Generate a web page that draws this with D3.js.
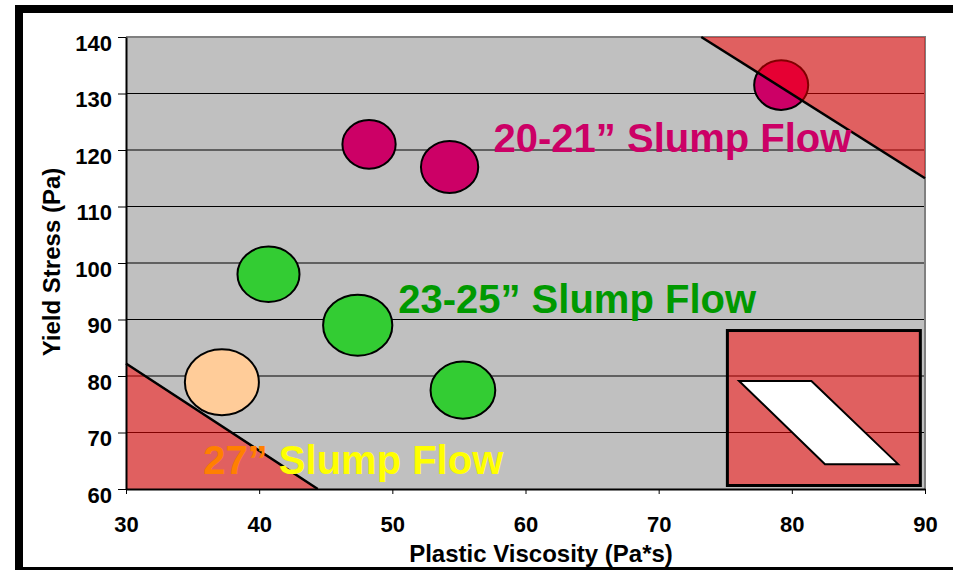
<!DOCTYPE html>
<html>
<head>
<meta charset="utf-8">
<script src="https://cdn.jsdelivr.net/npm/d3@7"></script>
<style>
  body { margin: 0; background: #fff; }
  svg { display: block; font-family: "Liberation Sans", Arial, sans-serif; font-weight: bold; }
</style>
</head>
<body>
<div id="chart"></div>
<script>
// values
const viscosity   = [48.25, 54.3, 79.2, 40.7, 47.4, 55.3, 37.2];
const yieldStress = [121, 117, 131.5, 98, 89, 77.5, 78.9];
const flowGroup   = ["20-21", "20-21", "20-21", "23-25", "23-25", "23-25", "27"];
const spreadPV    = [2.0, 2.15, 2.03, 2.33, 2.6, 2.43, 2.78];   // half width of each blob (Pa*s)
const spreadYS    = [4.3, 4.6, 4.4, 4.9, 5.4, 5.05, 5.85];      // half height of each blob (Pa)

const xTicks = [30, 40, 50, 60, 70, 80, 90];
const yTicks = [60, 70, 80, 90, 100, 110, 120, 130, 140];

// zones (in Pa*s / Pa)
const highZone = [[73.2, 140], [90, 140], [90, 115]];
const lowZone  = [[30, 82.2], [30, 60], [44.4, 60]];
const boxZone  = [[75.16, 88.05], [89.65, 60.62]];
const boxShape = [[76.04, 79.1], [81.47, 79.1], [87.98, 64.4], [82.49, 64.4]];

// group labels
const labelGroup = ["20-21", "23-25", "27"];
const labelX     = [57.6, 50.44, 35.8];
const labelY     = [119.7, 91.15, 62.6];

const groupFill  = {"20-21": "#CC0066", "23-25": "#33CC33", "27": "#FFCC99"};
const labelHead  = {"20-21": "#CC0066", "23-25": "#009900", "27": "#FF8000"};
const labelTail  = {"20-21": "#CC0066", "23-25": "#009900", "27": "#FFFF00"};

const W = 953, H = 570;
const plotL = 126, plotR = 925, plotT = 37, plotB = 489;

const svg = d3.select("#chart").append("svg")
    .attr("width", W)
    .attr("height", H);

const x = d3.scaleLinear().domain([30, 90]).range([plotL, plotR]);
const y = d3.scaleLinear().domain([60, 140]).range([plotB, plotT]);

// outer frame
svg.append("rect")
    .attr("x", 19).attr("y", 9)
    .attr("width", 1000).attr("height", 562)
    .attr("fill", "none")
    .attr("stroke", "#000")
    .attr("stroke-width", 8);

// plot background
svg.append("rect")
    .attr("x", plotL).attr("y", plotT)
    .attr("width", plotR - plotL).attr("height", plotB - plotT)
    .attr("fill", "#C0C0C0");

// gridlines
svg.append("g")
    .selectAll("line")
    .data(yTicks.filter(d => d > 60 && d < 140))
    .enter().append("line")
        .attr("x1", plotL).attr("x2", plotR)
        .attr("y1", d => y(d)).attr("y2", d => y(d))
        .attr("stroke", "#000")
        .attr("stroke-width", 1);

// plot border (top / right)
svg.append("path")
    .attr("d", `M${plotL},${plotT}H${plotR}V${plotB}`)
    .attr("fill", "none")
    .attr("stroke", "#808080")
    .attr("stroke-width", 2);

// blobs
const pts = viscosity.map((v, i) => ({v, s: yieldStress[i], g: flowGroup[i], rx: spreadPV[i], ry: spreadYS[i]}));
svg.append("g")
    .selectAll("ellipse")
    .data(pts)
    .enter().append("ellipse")
        .attr("cx", d => x(d.v))
        .attr("cy", d => y(d.s))
        .attr("rx", d => x(30 + d.rx) - x(30))
        .attr("ry", d => y(60) - y(60 + d.ry))
        .attr("fill", d => groupFill[d.g])
        .attr("stroke", "#000")
        .attr("stroke-width", 2);

// red zones
const line = d3.line().x(d => x(d[0])).y(d => y(d[1]));
[highZone, lowZone].forEach(z => {
    svg.append("path")
        .attr("d", line(z) + "Z")
        .attr("fill", "#FF0000")
        .attr("fill-opacity", 0.5);
    // the sloping edge
    svg.append("path")
        .attr("d", line([z[0], z[2]]))
        .attr("stroke", "#000")
        .attr("stroke-width", 2.5)
        .attr("fill", "none");
});

// inset box with parallelogram
svg.append("rect")
    .attr("x", x(boxZone[0][0]))
    .attr("y", y(boxZone[0][1]))
    .attr("width", x(boxZone[1][0]) - x(boxZone[0][0]))
    .attr("height", y(boxZone[1][1]) - y(boxZone[0][1]))
    .attr("fill", "#FF0000")
    .attr("fill-opacity", 0.5)
    .attr("stroke", "#000")
    .attr("stroke-width", 3);

svg.append("path")
    .attr("d", line(boxShape) + "Z")
    .attr("fill", "#fff")
    .attr("stroke", "#000")
    .attr("stroke-width", 2);

// axes
const xAxis = svg.append("g")
    .attr("transform", `translate(0,${plotB})`)
    .call(d3.axisBottom(x).tickValues(xTicks).tickSize(5).tickPadding(22).tickSizeOuter(0));
xAxis.select(".domain").attr("stroke", "#000").attr("stroke-width", 2);
xAxis.selectAll("text").attr("font-size", 22).attr("fill", "#000");

const yAxis = svg.append("g")
    .attr("transform", `translate(${plotL},0)`)
    .call(d3.axisLeft(y).tickValues(yTicks).tickSize(8).tickPadding(6).tickSizeOuter(0));
yAxis.select(".domain").attr("stroke", "#000").attr("stroke-width", 2);
yAxis.selectAll("text").attr("font-size", 22).attr("dy", "0.6em").attr("fill", "#000");
svg.selectAll(".tick line").attr("stroke", "#000");
svg.selectAll(".tick text, g[font-family]").attr("font-family", null).attr("font-weight", "bold");

// axis titles
svg.append("text")
    .attr("x", 541).attr("y", 562)
    .attr("text-anchor", "middle")
    .attr("font-size", 24)
    .text("Plastic Viscosity (Pa*s)");

svg.append("text")
    .attr("transform", "translate(60,262) rotate(-90)")
    .attr("text-anchor", "middle")
    .attr("font-size", 24)
    .text("Yield Stress (Pa)");

// group labels
labelGroup.forEach((g, i) => {
    const t = svg.append("text")
        .attr("x", x(labelX[i]))
        .attr("y", y(labelY[i]))
        .attr("font-size", 40);
    t.append("tspan").attr("fill", labelHead[g]).text(g + "\u201D");
    t.append("tspan").attr("fill", labelTail[g]).text(" Slump Flow");
});
</script>
</body>
</html>
